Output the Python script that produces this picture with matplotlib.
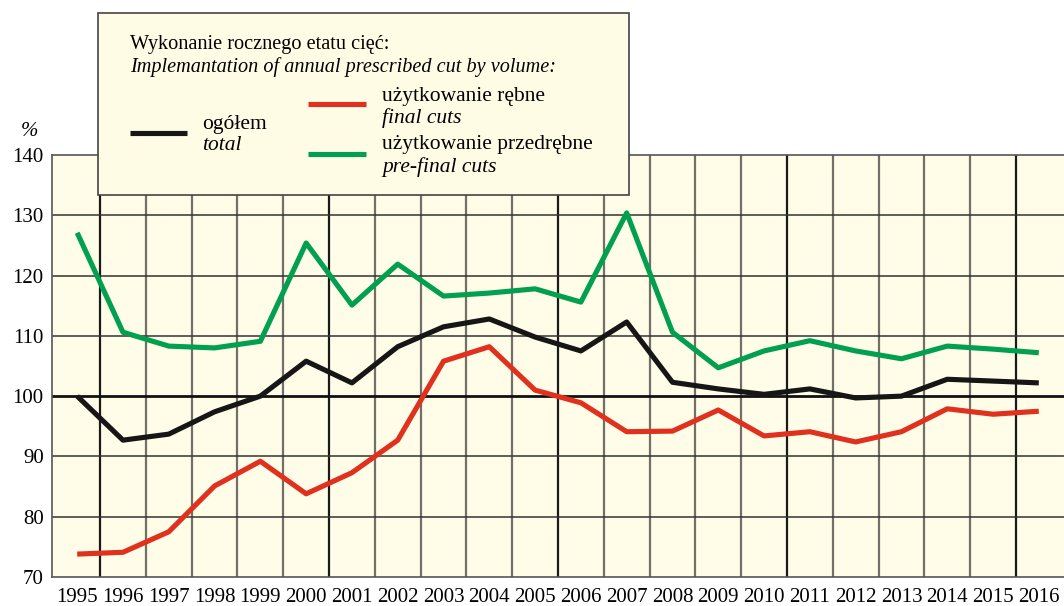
import matplotlib.pyplot as plt
from matplotlib.patches import Rectangle

years = list(range(1995, 2017))

# pre-final cuts (green)
pre_final = [127.1, 110.6, 108.3, 108.0, 109.1, 125.4, 115.1, 121.9, 116.6, 117.1, 117.8,
             115.6, 130.4, 110.6, 104.7, 107.5, 109.2, 107.5, 106.2, 108.3, 107.8, 107.2]
# total (black)
total = [100.0, 92.7, 93.7, 97.4, 100.0, 105.8, 102.2, 108.2, 111.5, 112.8, 109.8,
         107.5, 112.3, 102.3, 101.2, 100.3, 101.2, 99.7, 100.0, 102.8, 102.5, 102.2]
# final cuts (red)
final = [73.8, 74.1, 77.5, 85.1, 89.2, 83.8, 87.3, 92.7, 105.8, 108.2, 101.0,
         98.9, 94.1, 94.2, 97.7, 93.4, 94.1, 92.4, 94.1, 97.9, 97.0, 97.5]

y_ticks = [70, 80, 90, 100, 110, 120, 130, 140]

W, H = 1064, 606
bg = '#fffde8'
serif = ['Liberation Serif', 'DejaVu Serif']
plt.rcParams['font.family'] = serif

fig = plt.figure(figsize=(W / 100, H / 100), dpi=100)
ax = fig.add_axes([52 / W, (H - 577) / H, (W - 52) / W, (577 - 155) / H])
ax.set_facecolor(bg)

ax.set_xlim(1994.45, 2016.55)
ax.set_ylim(70, 140)

# vertical grid between years, heavier every five years
for i in range(len(years) - 1):
    xb = years[i] + 0.5
    if (years[i] - 1995) % 5 == 0:
        ax.axvline(xb, color='#1a1a1a', lw=1.6, zorder=1)
    else:
        ax.axvline(xb, color='#707068', lw=1.6, zorder=1)
for v in y_ticks[1:-1]:
    if v == 100:
        ax.axhline(v, color='#111111', lw=2.0, zorder=1)
    else:
        ax.axhline(v, color='#333333', lw=1.1, zorder=1)

ax.plot(years, pre_final, color='#00a050', lw=3.7, zorder=3, solid_capstyle='butt')
ax.plot(years, total, color='#161616', lw=3.7, zorder=3, solid_capstyle='butt')
ax.plot(years, final, color='#e0301e', lw=3.7, zorder=3, solid_capstyle='butt')

ax.set_yticks(y_ticks)
ax.set_yticklabels([str(v) for v in y_ticks], fontsize=15)
ax.set_xticks(years)
ax.set_xticklabels([str(y) for y in years], fontsize=15)
ax.tick_params(length=0, pad=6)
ax.tick_params(axis='x', pad=8)
for s in ['left', 'bottom', 'top']:
    ax.spines[s].set_color('#555555')
    ax.spines[s].set_linewidth(1.2)
ax.spines['right'].set_visible(False)

# overlay in pixel coordinates for the legend box and the % label
ov = fig.add_axes([0, 0, 1, 1], zorder=5)
ov.set_xlim(0, W)
ov.set_ylim(H, 0)
ov.axis('off')
ov.patch.set_alpha(0)

ov.text(30, 131, '%', fontsize=15, ha='center', va='center', style='italic')

ov.add_patch(Rectangle((98, 13), 629 - 98, 195 - 13, facecolor='#fffce6',
                       edgecolor='#444444', lw=1.2))
fs_title = 14.6
fs = 15.5
ov.text(130, 44, 'Wykonanie rocznego etatu cięć:', fontsize=fs_title, va='center')
ov.text(130, 67, 'Implemantation of annual prescribed cut by volume:', fontsize=fs_title,
        va='center', style='italic')

ov.plot([130, 187], [133, 133], color='#161616', lw=3.7, solid_capstyle='butt')
ov.text(202, 124, 'ogółem', fontsize=fs, va='center')
ov.text(202, 146, 'total', fontsize=fs, va='center', style='italic')

ov.plot([308, 366], [104, 104], color='#e0301e', lw=3.7, solid_capstyle='butt')
ov.text(382, 96, 'użytkowanie rębne', fontsize=fs, va='center')
ov.text(382, 118, 'final cuts', fontsize=fs, va='center', style='italic')

ov.plot([308, 366], [154, 154], color='#00a050', lw=3.7, solid_capstyle='butt')
ov.text(382, 145, 'użytkowanie przedrębne', fontsize=fs, va='center')
ov.text(382, 167, 'pre-final cuts', fontsize=fs, va='center', style='italic')

fig.savefig('out.png', dpi=100, facecolor='white')
